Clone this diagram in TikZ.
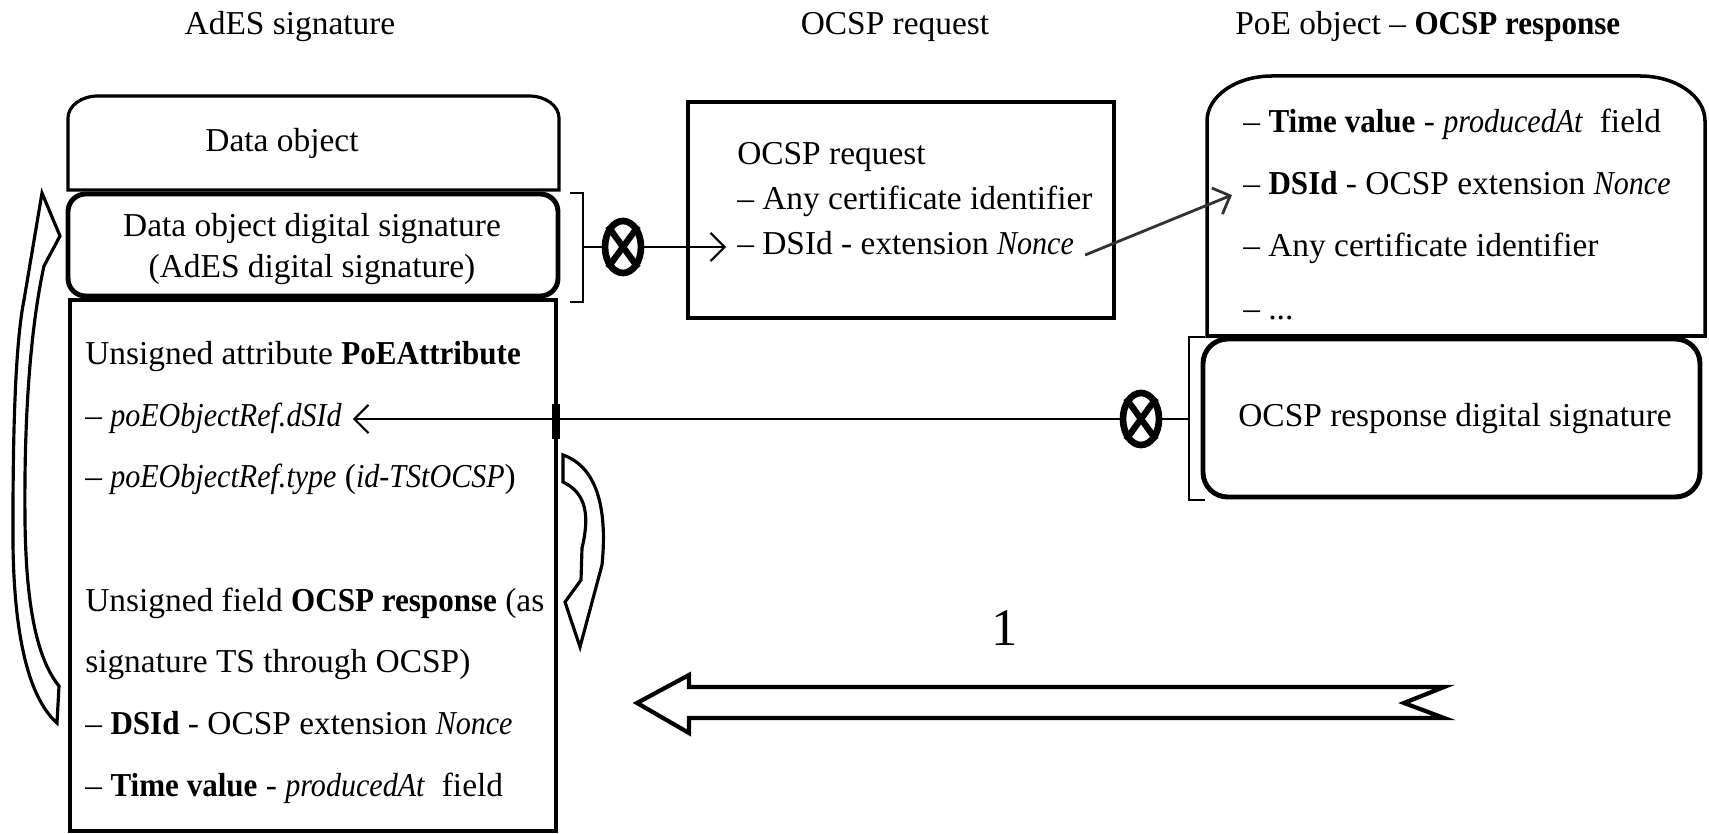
\documentclass[tikz,border=0pt]{standalone}
\usepackage{fontspec}
\setmainfont{Liberation Serif}[ItalicFeatures={FakeStretch=0.9}, BoldFeatures={FakeStretch=0.93}, BoldItalicFeatures={FakeStretch=0.9}]
\usetikzlibrary{arrows.meta}
\usetikzlibrary{shapes.geometric}

\tikzset{
  txt/.style={inner ysep=0pt, inner xsep=3pt, font=\fontsize{9.5}{11}\selectfont},
  ln/.style={txt, anchor=base west},
  ctr/.style={txt, anchor=base},
  xnode/.style={draw, ellipse, line width=1.9pt, minimum width=0.36cm, minimum height=0.52cm, inner sep=0pt},
  blockarrow/.style={draw, fill=white, line width=1.2pt, line join=miter},
  bracket/.style={line width=0.6pt},
}
\newcommand{\xcross}[1]{\draw[line width=1.8pt] (#1.north west) -- (#1.south east) (#1.north east) -- (#1.south west);}

\begin{document}
\begin{tikzpicture}[x=0.01cm, y=-0.01cm, >={Straight Barb[length=4pt,width=8pt]}]
\useasboundingbox (0,0) rectangle (1709,834);

\node[ctr] (t1) at (290,35) {AdES signature};
\node[ctr] (t2) at (895,35) {OCSP request};
\node[ln] (t3) at (1224,35) {PoE object – \textbf{OCSP response}};

% AdES signature
\draw[line width=0.9pt] (68,190) -- (68,118) arc[start angle=180, end angle=270, x radius=30, y radius=22] -- (529,96) arc[start angle=270, end angle=360, x radius=30, y radius=22] -- (559,190) -- cycle;
\node[ctr] (dobj) at (282,152) {Data object};
\draw[line width=1.4pt, rounded corners=5pt] (68,194) rectangle (558,296);
\node[ctr] (ds1) at (312,237) {Data object digital signature};
\node[ctr] (ds2) at (312,278) {(AdES digital signature)};
\draw[line width=1.2pt] (70,300) rectangle (556,831);
\draw[line width=2.4pt] (556,404) -- (556,439);
\foreach \y/\t [count=\i] in {365/{Unsigned attribute \textbf{PoEAttribute}},
    427/{– \textit{poEObjectRef.dSId}},
    488/{– \textit{poEObjectRef.type} (\textit{id-TStOCSP})},
    612/{Unsigned field \textbf{OCSP response} (as},
    673/{signature TS through OCSP)},
    735/{– \textbf{DSId} - OCSP extension \textit{Nonce}},
    797/{– \textbf{Time value} - \textit{producedAt}~ field}}
  \node[ln] (b\i) at (74,\y) {\t};

% OCSP request
\draw[line width=1.3pt] (688,102) rectangle (1114,318);
\node[ln] (r1) at (726,165) {OCSP request};
\node[ln] (r2) at (726,210) {– Any certificate identifier};
\node[ln] (r3) at (726,255) {– DSId - extension \textit{Nonce}};

% PoE object
\draw[line width=1pt] (1207,336) -- (1207,121) arc[start angle=180, end angle=270, x radius=65, y radius=45] -- (1640,76) arc[start angle=270, end angle=360, x radius=65, y radius=45] -- (1705,336) -- cycle;
\node[ln] (p1) at (1232,133) {– \textbf{Time value} - \textit{producedAt}~ field};
\node[ln] (p2) at (1232,195) {– \textbf{DSId} - OCSP extension \textit{Nonce}};
\node[ln] (p3) at (1232,257) {– Any certificate identifier};
\node[ln] (p4) at (1232,320) {– ...};
\draw[line width=1.4pt, rounded corners=7pt] (1203,339) rectangle (1700,497);
\node[ctr] (sig) at (1455,427) {OCSP response digital signature};

% links
\draw[bracket] (570,193) -- (583,193) -- (583,302) -- (570,302);
\coordinate (k1) at (583,247);
\node[xnode] (c1) at (623,247) {};
\xcross{c1}
\draw[bracket] (k1) -- (c1);
\draw[->, line width=0.6pt] (c1.east) -- (c1.east -| r3.west);
\draw[->, line width=0.8pt, black!80] (r3.base east) -- (p2.base west);

\draw[bracket] (1205,337) -- (1189,337) -- (1189,500) -- (1205,500);
\coordinate (k2) at (1189,419);
\node[xnode] (c2) at (1141,419) {};
\xcross{c2}
\draw[bracket] (k2) -- (c2);
\draw[->, line width=0.6pt] (c2.west) -- (c2.west -| b2.east);

% hollow arrows
\draw[blockarrow, line width=0.9pt] (42,193) -- (60,236) -- (44,266) .. controls (30,330) and (24,420) .. (25,520) .. controls (26,610) and (38,660) .. (59,686) -- (57,723) .. controls (20,690) and (12,600) .. (13,520) .. controls (13,420) and (16,340) .. (24,300) -- cycle;
\draw[blockarrow, line width=0.9pt] (563,455) .. controls (600,468) and (607,515) .. (602,565) -- (580,647) -- (565,602) -- (581,580) -- (582,548) .. controls (590,515) and (586,493) .. (563,482) -- cycle;
\draw[blockarrow] (637,703) -- (689,675) -- (689,687) -- (1444,687) -- (1404,703) -- (1444,718) -- (689,718) -- (689,733) -- cycle;
\node[font=\fontsize{15}{18}\selectfont] (one) at (1005,628) {1};
\end{tikzpicture}
\end{document}
